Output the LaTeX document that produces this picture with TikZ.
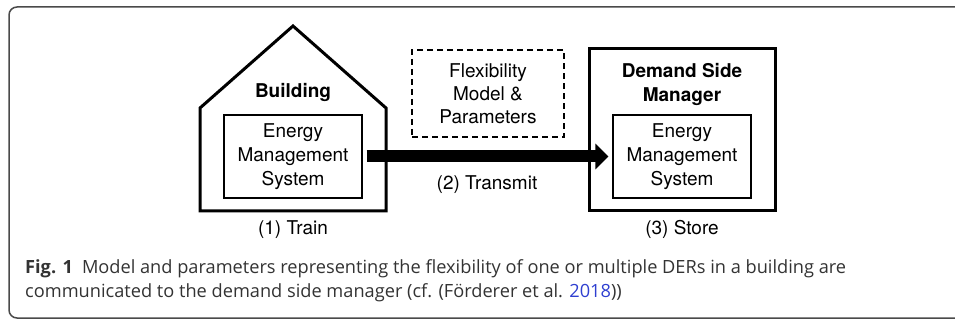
\documentclass[tikz,border=0pt]{standalone}
\usepackage{fontspec}
\setmainfont{TeX Gyre Heros}
\newfontfamily\capfont{Open Sans}
\usetikzlibrary{arrows.meta}

\definecolor{capgray}{HTML}{333333}
\definecolor{capblue}{HTML}{2F3FD0}
\definecolor{framegray}{HTML}{4A4A4A}

\tikzset{
  lbl/.style={font=\fontsize{19}{24}\selectfont, align=center, inner sep=0pt},
  emsbox/.style={draw, line width=1.3pt, minimum width=138pt, minimum height=83pt,
    lbl},
  thickbox/.style={draw, line width=3pt},
  flexbox/.style={draw, line width=1.2pt, dash pattern=on 6pt off 4pt,
    minimum width=152pt, minimum height=87pt, lbl, font=\fontsize{19}{23}\selectfont},
  captext/.style={font=\capfont\fontsize{18.2}{25}\selectfont, text=capgray,
    anchor=base west, inner sep=0pt},
}

\begin{document}
\begin{tikzpicture}[x=1pt,y=-1pt]
  \useasboundingbox (0,0) rectangle (955,320);
  \begin{scope}
    \clip (0,0) rectangle (955,320);
    \draw[framegray, line width=1.5pt, rounded corners=8pt] (9,7) rectangle (975,318);
  \end{scope}

  % building side
  \draw[thickbox, line join=miter] (200,211) -- (200,108) -- (293,26) -- (386,108) -- (386,211) -- cycle;
  \node[emsbox] (bems) at (293,156.5) {Energy\\Management\\System};
  \node[lbl, font=\fontsize{19}{24}\selectfont\bfseries, anchor=base] (bldg) at (293,98) {Building};
  \node[lbl, anchor=base] (train) at (293,235) {(1) Train};

  % what is sent
  \node[flexbox] (flex) at (488,93.5) {Flexibility\\Model \&\\Parameters};
  \node[lbl, anchor=base] (transmit) at (487,190) {(2) Transmit};

  % demand side manager
  \node[thickbox, minimum width=186pt, minimum height=162pt] (dsm) at (682,130) {};
  \node[lbl, font=\fontsize{19}{24}\selectfont\bfseries, anchor=base] (dsmlbl) at (682,102) {Demand Side\\Manager};
  \node[emsbox] (dems) at (682,156.5) {Energy\\Management\\System};
  \node[lbl, anchor=base] (store) at (682,235) {(3) Store};

  \draw[line width=12pt, -{Triangle[length=13pt, width=25pt]},
    shorten <=4pt, shorten >=4pt] (bems.east) -- (dems.west);

  % caption
  \node[captext] (cap1) at (25,273)
    {\textbf{Fig. 1}\hspace{0.5em}Model and parameters representing the flexibility of one or multiple DERs in a building are};
  \node[captext] (cap2) at (25,298)
    {communicated to the demand side manager (cf. (Förderer et al. \textcolor{capblue}{2018}))};
\end{tikzpicture}
\end{document}
